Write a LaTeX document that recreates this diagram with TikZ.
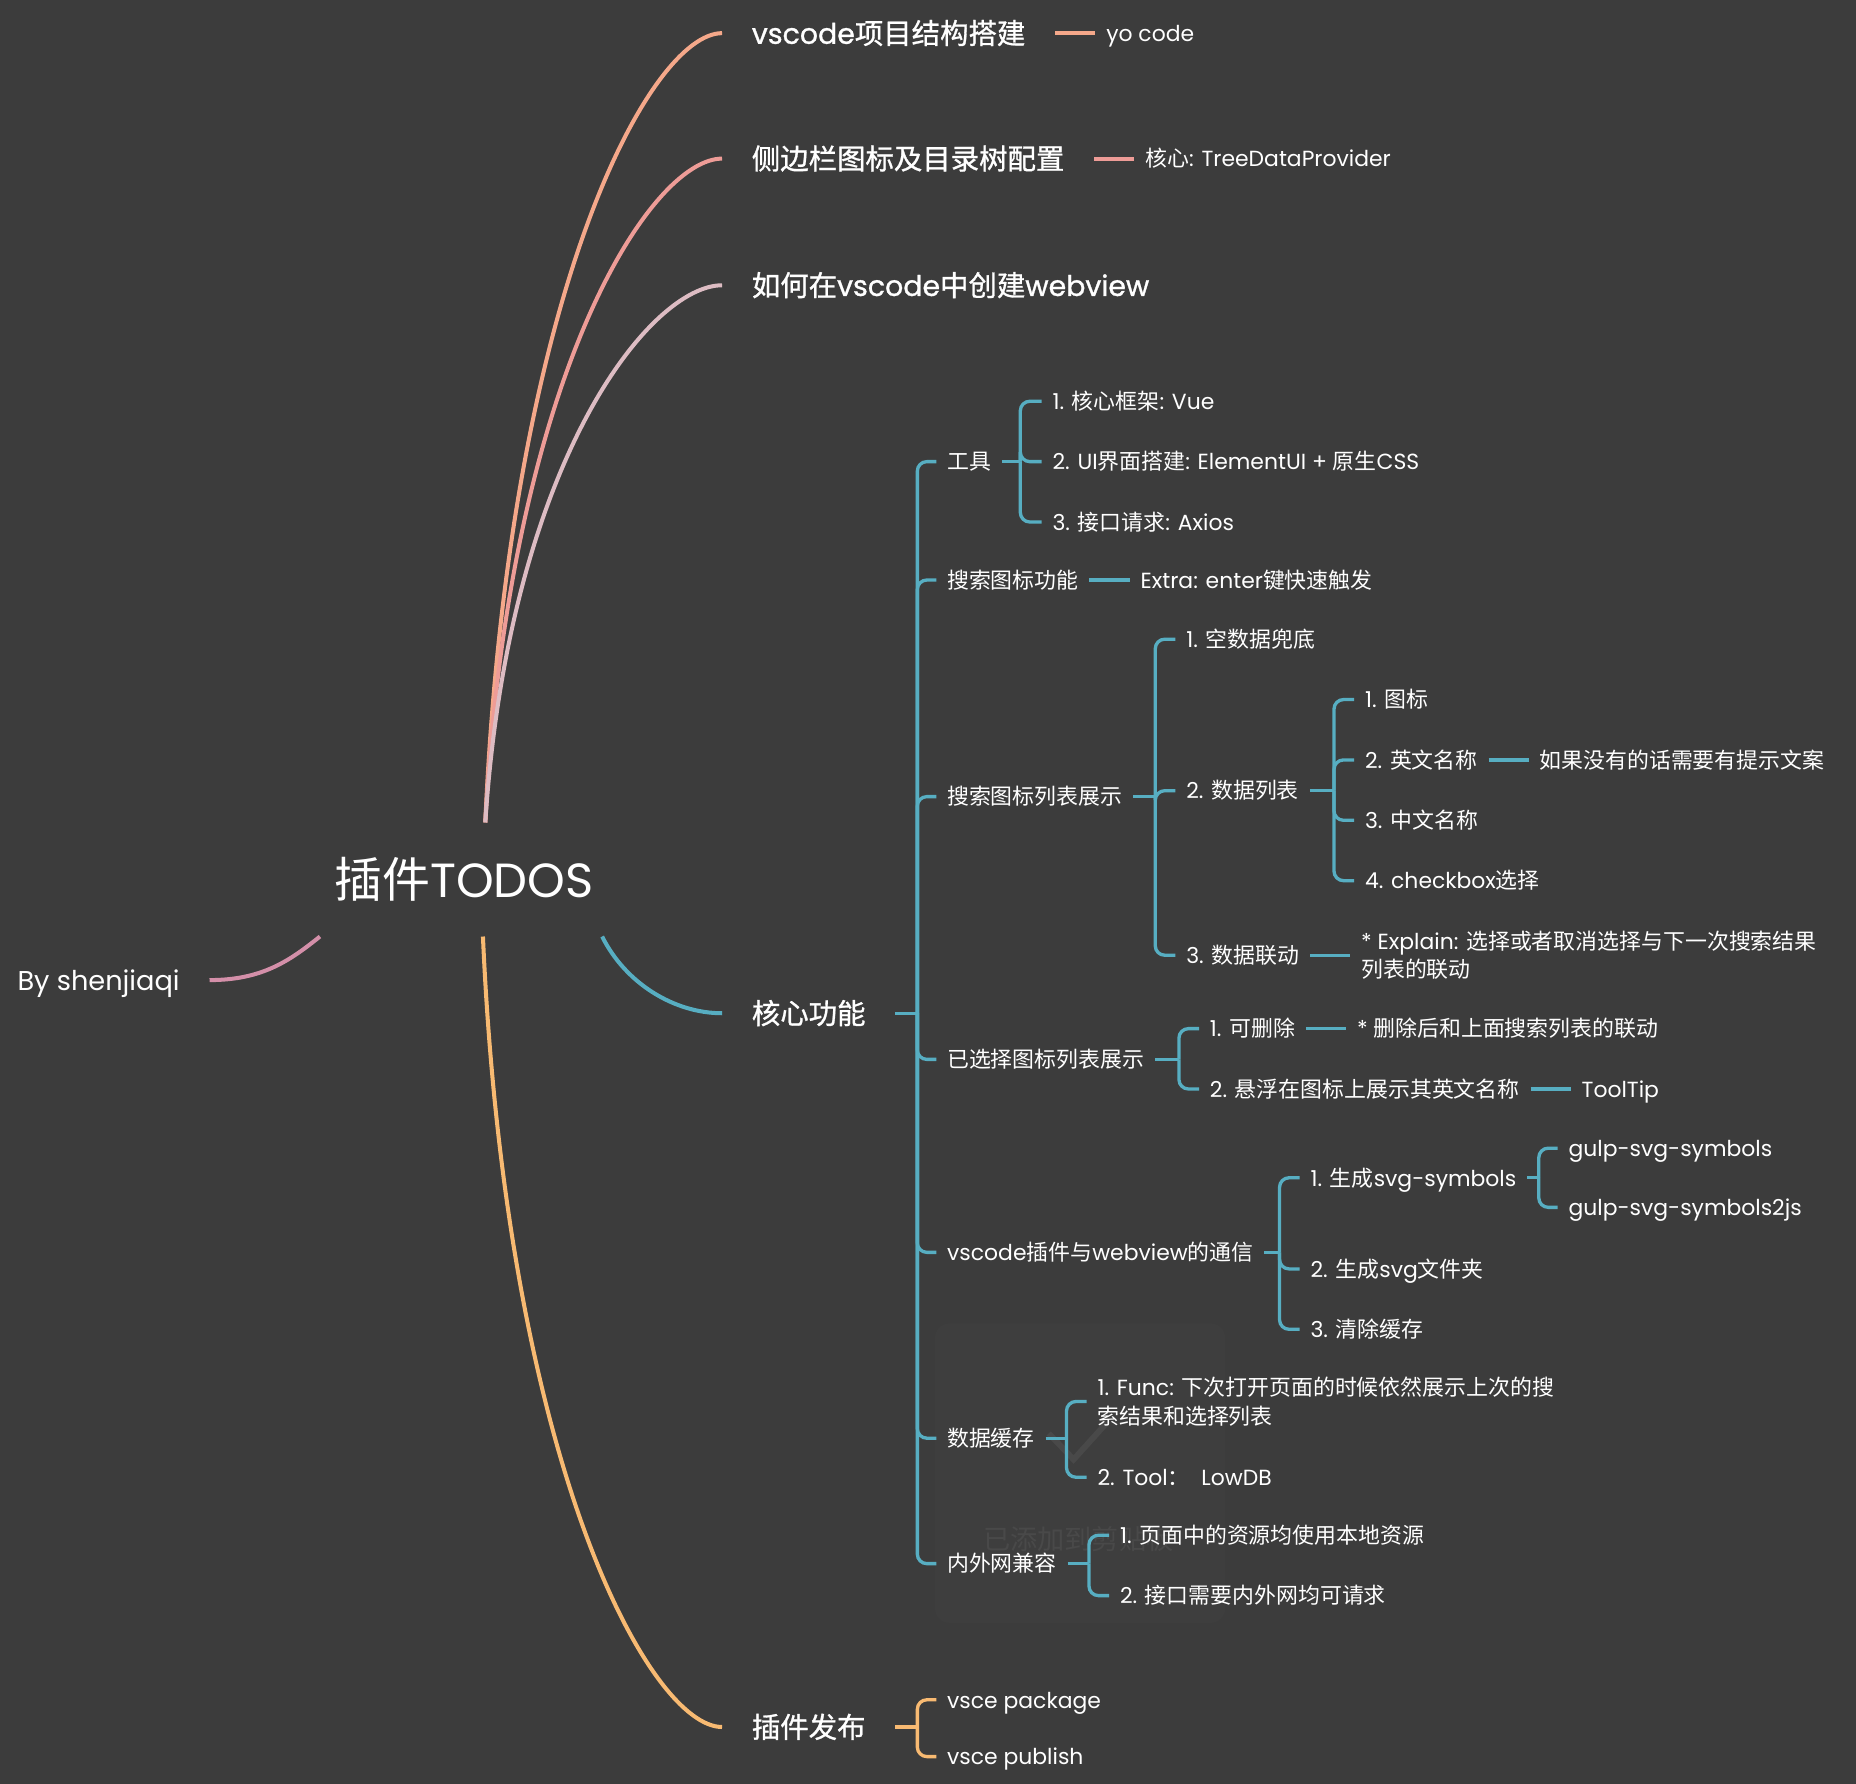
\documentclass[tikz,border=0pt]{standalone}
\usepackage{fontspec}
\setmainfont{Poppins}
\newfontfamily\cjkfont{Noto Sans CJK SC}
\newfontfamily\cjkheavy{Noto Sans CJK SC}[FakeBold=1]
\newfontfamily\latinheavy{Poppins}[FakeBold=1]
% switch to the CJK font for Chinese characters
\def\CJKon{\cjkfont}
\def\CJKoff{\rmfamily}
\XeTeXinterchartokenstate=1
\newXeTeXintercharclass\CJKclass
\newcount\CJKchar
\CJKchar="4E00
\loop\XeTeXcharclass\CJKchar=\CJKclass\advance\CJKchar by 1\ifnum\CJKchar<"A000\repeat
\CJKchar="3000
\loop\XeTeXcharclass\CJKchar=\CJKclass\advance\CJKchar by 1\ifnum\CJKchar<"3040\repeat
\CJKchar="FF00
\loop\XeTeXcharclass\CJKchar=\CJKclass\advance\CJKchar by 1\ifnum\CJKchar<"FFF0\repeat
\XeTeXinterchartoks 0 \CJKclass = {\CJKon}
\XeTeXinterchartoks 4095 \CJKclass = {\CJKon}
\XeTeXinterchartoks \CJKclass 0 = {\CJKoff}
\XeTeXinterchartoks \CJKclass 4095 = {\CJKoff}
\usepackage{tikz}
\usetikzlibrary{positioning}
\definecolor{bgGray}{HTML}{3C3C3C}
\definecolor{toastGray}{HTML}{3E3E3E}
\definecolor{toastText}{HTML}{494949}
\definecolor{peach}{HTML}{F5A88A}
\definecolor{rose}{HTML}{EE9C97}
\definecolor{lilac}{HTML}{DDBCC3}
\definecolor{teal}{HTML}{57AEC2}
\definecolor{amber}{HTML}{F8BA72}
\definecolor{mauve}{HTML}{D48FA9}

\begin{document}
\begin{tikzpicture}[x=1pt, y=-1pt, node distance=34pt,
    root/.style={text=white, font=\fontsize{40.5}{48}\selectfont,
        minimum width=239pt, minimum height=96pt, inner sep=0pt,
        text height=30pt, text depth=0pt},
    topic/.style={text=white,
        font=\fontsize{24}{30}\selectfont\def\CJKon{\cjkheavy}\def\CJKoff{\latinheavy}\latinheavy,
        inner xsep=25pt, inner ysep=4pt, text height=18pt, text depth=0pt},
    item/.style={text=white, font=\fontsize{18.5}{24}\selectfont,
        inner xsep=9pt, inner ysep=3pt, text height=14pt, text depth=0pt},
    note/.style={text=white, font=\fontsize{18.5}{24}\selectfont,
        inner xsep=9pt, align=left},
    branch/.style={line width=3.4pt},
    twig/.style={line width=2.8pt, rounded corners=8pt}
]
    \useasboundingbox[fill=bgGray] (0,0) rectangle (1568,1507);

    % clipboard toast
    \fill[toastGray, rounded corners=12pt] (790,1118) rectangle (1035,1371);
    \draw[toastText, line width=5pt] (886,1211) -- (907,1233) -- (935,1202);
    \node[text=toastText, font=\cjkfont\fontsize{23}{28}\selectfont] (Toast) at (911,1300) {已添加到剪贴板};

    % Root
    \node[root] (Root) at (392,743) {插件TODOS};

    % Main topics
    \node[topic, anchor=west] (Build) at (610,28) {vscode项目结构搭建};
    \node[item, right=of Build] (BuildNote) {yo code};
    \node[topic, anchor=west] (Sidebar) at (610,134) {侧边栏图标及目录树配置};
    \node[item, right=of Sidebar] (SidebarNote) {核心: TreeDataProvider};
    \node[topic, anchor=west] (Webview) at (610,241) {如何在vscode中创建webview};
    \node[topic, anchor=west] (Core) at (610,856) {核心功能};
    \node[topic, anchor=west] (Publish) at (610,1459) {插件发布};
    \node[topic, anchor=east, font=\fontsize{23}{28}\selectfont] (Author) at (177,828) {By shenjiaqi};

    % Core
    \node[item, anchor=west] (Tools) at (791,390) {工具};
    \node[item, anchor=west] (Search) at (791,490) {搜索图标功能};
    \node[item, right=of Search] (SearchNote) {Extra: enter键快速触发};
    \node[item, anchor=west] (List) at (791,673) {搜索图标列表展示};
    \node[item, anchor=west] (Picked) at (791,895) {已选择图标列表展示};
    \node[item, anchor=west] (Comm) at (791,1058) {vscode插件与webview的通信};
    \node[item, anchor=west] (Cache) at (791,1215) {数据缓存};
    \node[item, anchor=west] (Net) at (791,1321) {内外网兼容};

    \node[item, anchor=west] (Tools1) at (880,339) {1. 核心框架: Vue};
    \node[item, anchor=west] (Tools2) at (880,390) {2. UI界面搭建: ElementUI + 原生CSS};
    \node[item, anchor=west] (Tools3) at (880,441) {3. 接口请求: Axios};

    \node[item, anchor=west] (List1) at (993,540) {1. 空数据兜底};
    \node[item, anchor=west] (List2) at (993,668) {2. 数据列表};
    \node[item, anchor=west] (List3) at (993,807) {3. 数据联动};
    \node[note, right=of List3] (List3Note) {* Explain: 选择或者取消选择与下一次搜索结果\\列表的联动};
    \node[item, anchor=west] (Data1) at (1144,591) {1. 图标};
    \node[item, anchor=west] (Data2) at (1144,642) {2. 英文名称};
    \node[item, right=of Data2] (Data2Note) {如果没有的话需要有提示文案};
    \node[item, anchor=west] (Data3) at (1144,693) {3. 中文名称};
    \node[item, anchor=west] (Data4) at (1144,744) {4. checkbox选择};

    \node[item, anchor=west] (Picked1) at (1013,869) {1. 可删除};
    \node[item, right=of Picked1] (Picked1Note) {* 删除后和上面搜索列表的联动};
    \node[item, anchor=west] (Picked2) at (1013,920) {2. 悬浮在图标上展示其英文名称};
    \node[item, right=of Picked2] (Picked2Note) {ToolTip};

    \node[item, anchor=west] (Comm1) at (1098,995) {1. 生成svg-symbols};
    \node[item, anchor=west] (Comm2) at (1098,1072) {2. 生成svg文件夹};
    \node[item, anchor=west] (Comm3) at (1098,1123) {3. 清除缓存};
    \node[item, anchor=west] (Sym1) at (1316,970) {gulp-svg-symbols};
    \node[item, anchor=west] (Sym2) at (1316,1020) {gulp-svg-symbols2js};

    \node[note, anchor=west] (Cache1) at (918,1184) {1. Func: 下次打开页面的时候依然展示上次的搜\\索结果和选择列表};
    \node[item, anchor=west] (Cache2) at (918,1248) {2. Tool：~ LowDB};

    \node[item, anchor=west] (Net1) at (937,1297) {1. 页面中的资源均使用本地资源};
    \node[item, anchor=west] (Net2) at (937,1348) {2. 接口需要内外网均可请求};

    \node[item, anchor=west] (Publish1) at (791,1436) {vsce package};
    \node[item, anchor=west] (Publish2) at (791,1484) {vsce publish};

    % Branches
    \draw[branch, peach] ([xshift=18pt]Root.north) .. controls +(20,-450) and +(-60,0) .. (Build.west);
    \draw[branch, rose] ([xshift=18pt]Root.north) .. controls +(20,-378) and +(-60,0) .. (Sidebar.west);
    \draw[branch, lilac] ([xshift=18pt]Root.north) .. controls +(20,-306) and +(-60,0) .. (Webview.west);
    \draw[branch, teal] ([xshift=-3pt]Root.south east) .. controls +(20,40) and +(-40,0) .. (Core.west);
    \draw[branch, amber] ([xshift=16pt]Root.south) .. controls +(20,450) and +(-60,0) .. (Publish.west);
    \draw[branch, mauve] ([xshift=-2pt]Root.south west) .. controls +(-25,20) and +(45,0) .. (Author.east);
    \draw[branch, peach] (Build) -- (BuildNote);
    \draw[branch, rose] (Sidebar) -- (SidebarNote);

    \coordinate (CoreFork) at (775,856);
    \draw[twig, teal] (Core.east) -- (CoreFork);
    \foreach \n in {Tools,Search,List,Picked,Comm,Cache,Net}
        \draw[twig, teal] (CoreFork) |- (\n.west);

    \coordinate (ToolsFork) at (862,390);
    \draw[twig, teal] (Tools.east) -- (ToolsFork);
    \foreach \n in {Tools1,Tools2,Tools3}
        \draw[twig, teal] (ToolsFork) |- (\n.west);
    \draw[twig, teal] (Search) -- (SearchNote);

    \coordinate (ListFork) at (976,673);
    \draw[twig, teal] (List.east) -- (ListFork);
    \foreach \n in {List1,List2,List3}
        \draw[twig, teal] (ListFork) |- (\n.west);
    \coordinate (DataFork) at (1127,668);
    \draw[twig, teal] (List2.east) -- (DataFork);
    \foreach \n in {Data1,Data2,Data3,Data4}
        \draw[twig, teal] (DataFork) |- (\n.west);
    \draw[twig, teal] (Data2) -- (Data2Note);
    \draw[twig, teal] (List3) -- (List3Note);

    \coordinate (PickedFork) at (996,895);
    \draw[twig, teal] (Picked.east) -- (PickedFork);
    \foreach \n in {Picked1,Picked2}
        \draw[twig, teal] (PickedFork) |- (\n.west);
    \draw[twig, teal] (Picked1) -- (Picked1Note);
    \draw[twig, teal] (Picked2) -- (Picked2Note);

    \coordinate (CommFork) at (1081,1058);
    \draw[twig, teal] (Comm.east) -- (CommFork);
    \foreach \n in {Comm1,Comm2,Comm3}
        \draw[twig, teal] (CommFork) |- (\n.west);
    \coordinate (SymFork) at (1300,995);
    \draw[twig, teal] (Comm1.east) -- (SymFork);
    \foreach \n in {Sym1,Sym2}
        \draw[twig, teal] (SymFork) |- (\n.west);

    \coordinate (CacheFork) at (901,1215);
    \draw[twig, teal] (Cache.east) -- (CacheFork);
    \foreach \n in {Cache1,Cache2}
        \draw[twig, teal] (CacheFork) |- (\n.west);

    \coordinate (NetFork) at (920,1321);
    \draw[twig, teal] (Net.east) -- (NetFork);
    \foreach \n in {Net1,Net2}
        \draw[twig, teal] (NetFork) |- (\n.west);

    \coordinate (PublishFork) at (775,1459);
    \draw[twig, amber] (Publish.east) -- (PublishFork);
    \foreach \n in {Publish1,Publish2}
        \draw[twig, amber] (PublishFork) |- (\n.west);

\end{tikzpicture}
\end{document}
